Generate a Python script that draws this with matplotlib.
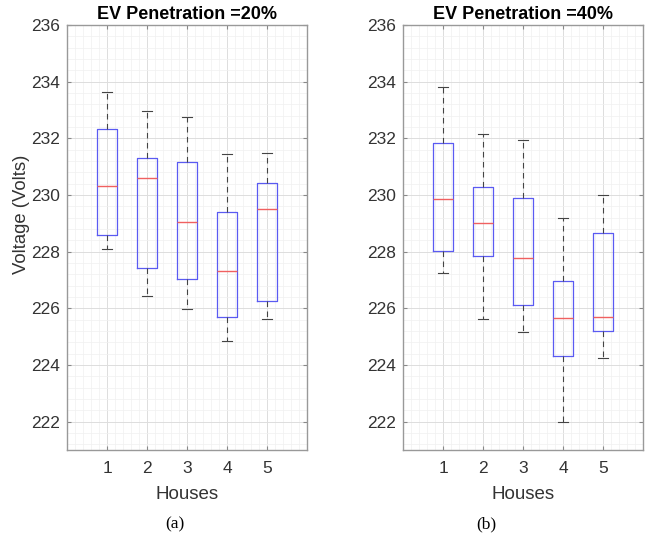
import matplotlib
matplotlib.use("Agg")
import matplotlib.pyplot as plt
from matplotlib.ticker import MultipleLocator

houses = [1, 2, 3, 4, 5]
titles = ["EV Penetration =20%", "EV Penetration =40%"]
captions = ["(a)", "(b)"]

# 20% penetration: lower whisker, Q1, median, Q3, upper whisker
p20_low = [228.09, 226.44, 225.98, 224.83, 225.61]
p20_q1 = [228.58, 227.42, 227.04, 225.69, 226.25]
p20_med = [230.32, 230.59, 229.06, 227.31, 229.49]
p20_q3 = [232.33, 231.29, 231.17, 229.40, 230.41]
p20_high = [233.65, 232.96, 232.77, 231.45, 231.50]

# 40% penetration
p40_low = [227.23, 225.61, 225.16, 221.99, 224.24]
p40_q1 = [228.02, 227.84, 226.11, 224.30, 225.20]
p40_med = [229.85, 229.01, 227.76, 225.67, 225.69]
p40_q3 = [231.83, 230.28, 229.91, 226.96, 228.67]
p40_high = [233.82, 232.16, 231.95, 229.19, 229.99]

datasets = [
    (p20_low, p20_q1, p20_med, p20_q3, p20_high),
    (p40_low, p40_q1, p40_med, p40_q3, p40_high),
]

plt.rcParams['font.family'] = ['Liberation Sans', 'DejaVu Sans']

fig = plt.figure(figsize=(6.5, 5.45), dpi=100)
lefts = [67 / 650, 403 / 650]
caption_x = [175 / 650, 486 / 650]
for i, (low, q1, med, q3, high) in enumerate(datasets):
    ax = fig.add_axes([lefts[i], 1 - 450 / 545, 240 / 650, 425 / 545])
    stats = []
    for h, lo, a, m, b, hi in zip(houses, low, q1, med, q3, high):
        stats.append(dict(label=str(h), whislo=lo, q1=a, med=m, q3=b, whishi=hi, fliers=[]))
    ax.bxp(stats, positions=houses, widths=0.5, capwidths=0.25, showfliers=False,
           boxprops=dict(color='#5a5af2', linewidth=0.9),
           medianprops=dict(color='#f06060', linewidth=1.0),
           whiskerprops=dict(color='#444444', linestyle=(0, (5, 4)), linewidth=0.8),
           capprops=dict(color='#444444', linewidth=0.8))
    ax.set_xlim(0, 6)
    ax.set_ylim(221, 236)
    ax.set_xticks(houses)
    ax.set_xticklabels([str(h) for h in houses])
    ax.yaxis.set_major_locator(MultipleLocator(2))
    ax.yaxis.set_minor_locator(MultipleLocator(0.4))
    ax.xaxis.set_minor_locator(MultipleLocator(0.2))
    ax.grid(True, which='major', color='#dddddd', linewidth=0.7)
    ax.grid(True, which='minor', color='#f0f0f0', linewidth=0.5)
    ax.set_axisbelow(True)
    ax.tick_params(which='major', direction='in', length=3, top=True, right=True,
                   colors='#888888', labelcolor='#333333', labelsize=12.5)
    ax.tick_params(axis='x', which='major', pad=8)
    ax.tick_params(axis='y', which='major', pad=5)
    ax.tick_params(which='minor', length=0)
    for s in ax.spines.values():
        s.set_color('#999999')
        s.set_linewidth(1.0)
    ax.set_title(titles[i], fontsize=13, fontweight='bold', pad=4)
    ax.set_xlabel("Houses", fontsize=13.5, color='#333333', labelpad=7)
    if i == 0:
        ax.set_ylabel("Voltage (Volts)", fontsize=13.3, color='#333333', va='center')
        ax.yaxis.set_label_coords(-0.1875, 0.555)
    fig.text(caption_x[i], 1 - 524 / 545, captions[i],
             ha='center', va='center', fontsize=12.5, family=['Liberation Serif', 'DejaVu Serif'])

fig.savefig("out.png", dpi=100)
